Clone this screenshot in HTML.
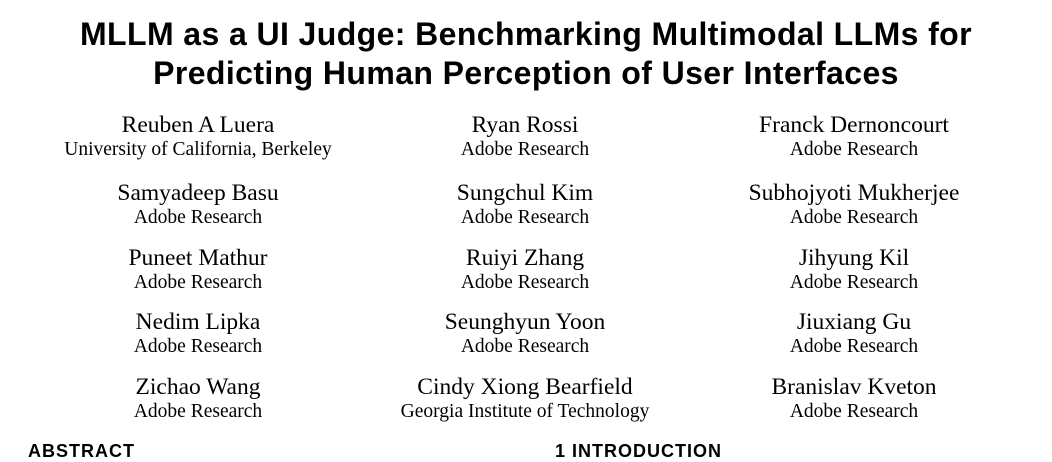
<!DOCTYPE html>
<html><head><meta charset="utf-8"><style>
body{margin:0;width:1052px;height:445px;overflow:hidden;background:#fff;position:relative;font-family:"Liberation Serif",serif;color:#000}
.t{position:absolute;left:0;width:1052px;text-align:center;font-family:"Liberation Sans",sans-serif;font-weight:bold;font-size:32px;letter-spacing:0.4px;line-height:1}
.a{position:absolute;width:400px;text-align:center}
.n{font-size:23.5px;line-height:1;}
.f{font-size:19.5px;line-height:1;margin-top:2px}
.h{position:absolute;top:441px;font-family:"Liberation Sans",sans-serif;font-weight:bold;font-size:18px;letter-spacing:1px}
</style></head><body>
<div class="t" style="top:18px">MLLM as a UI Judge: Benchmarking Multimodal LLMs for</div>
<div class="t" style="top:57px">Predicting Human Perception of User Interfaces</div>
<div id="authors"></div>
<div class="h" style="left:28px">ABSTRACT</div>
<div class="h" style="left:555px">1 INTRODUCTION</div>
<script>
const cols=[198,525,854];
const rows=[114,182,247,311,376];
const people=[
["Reuben A Luera","University of California, Berkeley"],["Ryan Rossi","Adobe Research"],["Franck Dernoncourt","Adobe Research"],
["Samyadeep Basu","Adobe Research"],["Sungchul Kim","Adobe Research"],["Subhojyoti Mukherjee","Adobe Research"],
["Puneet Mathur","Adobe Research"],["Ruiyi Zhang","Adobe Research"],["Jihyung Kil","Adobe Research"],
["Nedim Lipka","Adobe Research"],["Seunghyun Yoon","Adobe Research"],["Jiuxiang Gu","Adobe Research"],
["Zichao Wang","Adobe Research"],["Cindy Xiong Bearfield","Georgia Institute of Technology"],["Branislav Kveton","Adobe Research"]];
const c=document.getElementById('authors');
people.forEach((p,i)=>{
 const d=document.createElement('div');d.className='a';
 
 
 d.style.left=(cols[i%3]-200)+'px';d.style.top=rows[Math.floor(i/3)]+'px';
 d.innerHTML='<div class="n">'+p[0]+'</div><div class="f">'+p[1]+'</div>';
 c.appendChild(d);
});
</script>
</body></html>
